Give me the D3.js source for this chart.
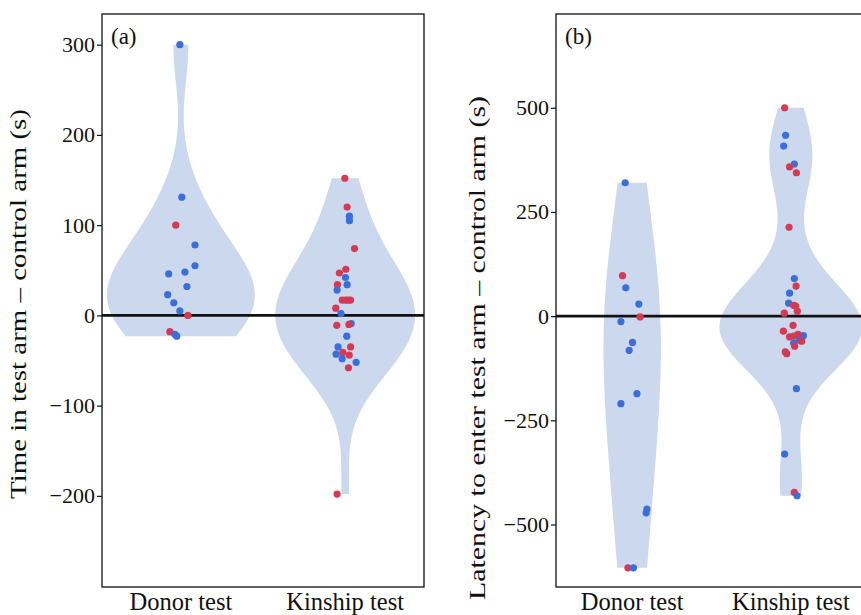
<!DOCTYPE html>
<html>
<head>
<meta charset="utf-8">
<script src="https://cdn.jsdelivr.net/npm/d3@7"></script>
<style>
  body { margin: 0; background: #fff; }
  svg { display: block; font-family: "Liberation Serif", "DejaVu Serif", serif; }
</style>
</head>
<body>
<div id="chart"></div>
<script>
const tests = ["Donor test", "Kinship test"];

// panel (a): time in test arm - control arm (s)
const donorTime = [300, 131, 100, 78, 55, 46, 48, 32, 23, 14, 5, 0, -18, -21, -23];
const donorTimeGroup = ["b","b","r","b","b","b","b","b","b","b","b","r","r","b","b"];
const donorTimeJitter = [-0.006, 0.006, -0.031, 0.086, 0.086, -0.074, 0.025, 0.037, -0.080, -0.043, -0.006, 0.043, -0.067, -0.037, -0.025];

const kinTime = [152, 120, 110, 105, 74, 51, 47, 42, 34, 34, 28, 17, 17, 17, 17, 8, 2, -9, -10, -11, -23, -35, -35, -41, -43, -44, -48, -52, -58, -198];
const kinTimeGroup = ["r","r","b","b","r","r","r","b","b","r","b","r","r","r","r","r","b","b","r","r","b","b","r","r","b","r","b","b","r","r"];
const kinTimeJitter = [-0.002, 0.012, 0.026, 0.026, 0.057, 0.004, -0.035, 0.002, 0.012, -0.047, -0.049, -0.018, 0.002, 0.018, 0.033, -0.057, -0.025, 0.037, 0.023, -0.051, 0.010, -0.043, 0.033, -0.014, -0.055, 0.025, -0.018, 0.067, 0.020, -0.049];

// panel (b): latency to enter test arm - control arm (s)
const donorLat = [320, 97, 68, 29, -2, -13, -63, -82, -186, -210, -463, -472, -604, -604];
const donorLatGroup = ["b","r","b","b","r","b","b","b","b","b","b","b","r","b"];
const donorLatJitter = [-0.044, -0.061, -0.040, 0.042, 0.050, -0.071, 0.002, -0.019, 0.030, -0.071, 0.093, 0.088, -0.027, 0.008];

const kinLat = [500, 434, 408, 365, 358, 344, 213, 90, 72, 55, 31, 26, 24, 12, 7, -22, -36, -47, -50, -48, -44, -58, -60, -65, -72, -86, -90, -174, -331, -423, -431];
const kinLatGroup = ["r","b","b","b","r","r","r","b","r","b","b","r","r","r","r","r","r","b","r","r","r","b","r","b","r","r","r","b","b","r","b"];
const kinLatJitter = [-0.039, -0.033, -0.045, 0.022, -0.008, 0.035, -0.011, 0.022, 0.033, -0.008, -0.014, 0.018, 0.030, 0.041, -0.041, 0.014, -0.047, 0.079, -0.008, 0.018, 0.045, 0.054, 0.068, 0.018, 0.024, -0.035, -0.026, 0.035, -0.039, 0.022, 0.039];

const timeTicks = [-200, -100, 0, 100, 200, 300];
const latTicks = [-500, -250, 0, 250, 500];

const W = 861, H = 615;
const svg = d3.select("#chart").append("svg").attr("width", W).attr("height", H);

const color = d3.scaleOrdinal().domain(["b", "r"]).range(["#3a6ed8", "#d63a52"]);

// gaussian kde (R's bw.nrd0 times adjust), trimmed to the data range
function bwNrd0(vals) {
  const s = vals.slice().sort(d3.ascending);
  const sd = d3.deviation(s);
  const iqr = d3.quantile(s, 0.75) - d3.quantile(s, 0.25);
  return 0.9 * Math.min(sd, iqr / 1.34) * Math.pow(s.length, -0.2);
}
function kde(vals, adjust) {
  const h = bwNrd0(vals) * adjust;
  const lo = d3.min(vals), hi = d3.max(vals);
  const k = 1 / (vals.length * h * Math.sqrt(2 * Math.PI));
  return d3.range(201).map(i => {
    const v = lo + (hi - lo) * i / 200;
    return { v, d: k * d3.sum(vals, x => Math.exp(-0.5 * ((v - x) / h) ** 2)) };
  });
}

function panel(opt) {
  const { left, right, top, bottom, domain, ticks, groups, title, titleX, titleY, titleLen, tag } = opt;
  const x = d3.scalePoint().domain(tests).range([left, right]).padding(0.48);
  const y = d3.scaleLinear().domain(domain).range([bottom, top]);

  const dens = groups.map(g => kde(g.values, opt.adjust));
  const maxD = d3.max(dens, ds => d3.max(ds, d => d.d));
  const w = d3.scaleLinear().domain([0, maxD]).range([0, x.step() * 0.45]);

  const g = svg.append("g");

  groups.forEach((grp, i) => {
    const cx = x(tests[i]);
    g.append("path").datum(dens[i])
      .attr("fill", "#ccd8ee")
      .attr("d", d3.area().x0(d => cx - w(d.d)).x1(d => cx + w(d.d)).y(d => y(d.v)));
  });

  g.append("line").attr("x1", left).attr("x2", right).attr("y1", y(0)).attr("y2", y(0))
    .attr("stroke", "#111").attr("stroke-width", 2.8);

  groups.forEach((grp, i) => {
    const cx = x(tests[i]);
    g.selectAll(null).data(grp.values).enter().append("circle")
      .attr("cx", (d, j) => cx + grp.jitter[j] * x.step())
      .attr("cy", d => y(d))
      .attr("r", 3.6)
      .attr("fill", (d, j) => color(grp.group[j]));
  });

  g.append("rect").attr("x", left).attr("y", top)
    .attr("width", right - left).attr("height", bottom - top)
    .attr("fill", "none").attr("stroke", "#111").attr("stroke-width", 1.3);

  const ax = g.append("g").attr("transform", `translate(${left},0)`)
    .call(d3.axisLeft(y).tickValues(ticks).tickSize(5).tickPadding(2));
  ax.select(".domain").remove();
  ax.selectAll(".tick line").attr("stroke", "#111").attr("stroke-width", 1.2);
  ax.selectAll(".tick text").attr("font-family", "Liberation Serif").attr("font-size", 22).attr("fill", "#111");

  g.selectAll(null).data(tests).enter().append("text")
    .attr("x", d => x(d)).attr("y", 610)
    .attr("text-anchor", "middle").attr("font-size", 24.5).attr("fill", "#111")
    .text(d => d);

  g.append("text").attr("transform", `translate(${titleX},${titleY}) rotate(-90)`)
    .attr("text-anchor", "middle").attr("font-size", 23).attr("fill", "#111")
    .attr("textLength", titleLen).attr("lengthAdjust", "spacingAndGlyphs").text(title);

  g.append("text").attr("x", left + 9).attr("y", top + 30)
    .attr("font-size", 23).attr("fill", "#111").text(tag);
}

panel({
  left: 102, right: 424, top: 14, bottom: 587, domain: [-301, 334], ticks: timeTicks,
  adjust: 1.8,
  groups: [
    { values: donorTime, group: donorTimeGroup, jitter: donorTimeJitter },
    { values: kinTime, group: kinTimeGroup, jitter: kinTimeJitter }
  ],
  title: "Time in test arm – control arm (s)", titleX: 26, titleY: 304, titleLen: 390, tag: "(a)"
});

panel({
  left: 556, right: 867, top: 14, bottom: 587, domain: [-650, 725], ticks: latTicks,
  adjust: 1.8,
  groups: [
    { values: donorLat, group: donorLatGroup, jitter: donorLatJitter },
    { values: kinLat, group: kinLatGroup, jitter: kinLatJitter }
  ],
  title: "Latency to enter test arm – control arm (s)", titleX: 485, titleY: 348, titleLen: 504, tag: "(b)"
});
</script>
</body>
</html>
